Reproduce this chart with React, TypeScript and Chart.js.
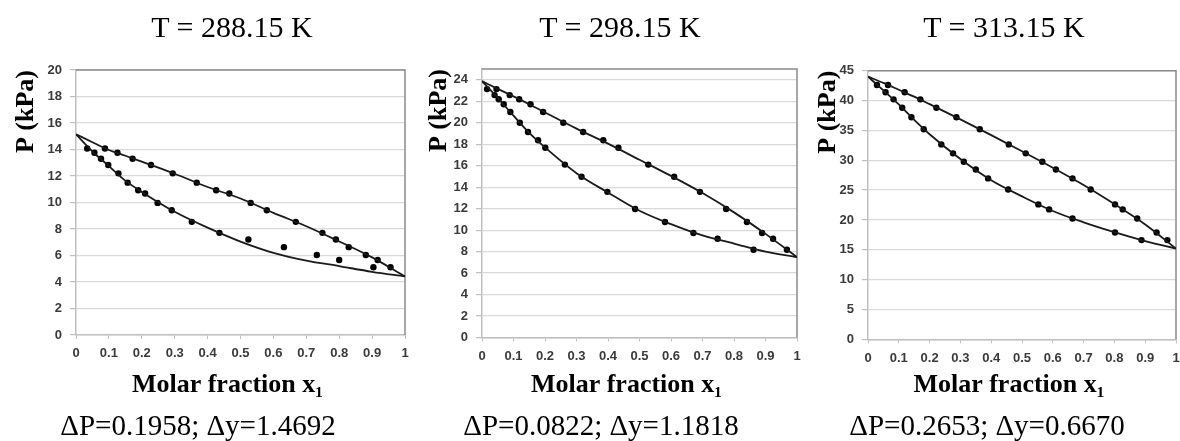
import React, { useEffect, useRef } from 'react';
import { Chart, registerables } from 'chart.js';

Chart.register(...registerables);

const CURVE_X = [0, 0.05, 0.1, 0.15, 0.2, 0.3, 0.4, 0.5, 0.6, 0.7, 0.8, 0.9, 1];

// ---- T = 288.15 K ----
const P_288 = [14.07, 13.76, 13.3, 12.83, 12.2, 11.5, 10.92, 10.68, 9.97, 9.42, 8.54, 7.71, 7.21, 6.63, 6.04, 5.66, 5.11];
const X1_288 = [0.088, 0.126, 0.172, 0.228, 0.294, 0.367, 0.426, 0.466, 0.531, 0.58, 0.668, 0.749, 0.79, 0.829, 0.881, 0.917, 0.956];
const Y1_288 = [0.034, 0.056, 0.076, 0.098, 0.129, 0.157, 0.189, 0.21, 0.248, 0.291, 0.352, 0.436, 0.524, 0.632, 0.732, 0.8, 0.904];
const BUBBLE_288 = [15.15, 14.55, 13.96, 13.53, 13.08, 12.17, 11.17, 10.3, 9.22, 8.21, 7.06, 5.86, 4.42];
const DEW_288 = [15.15, 13.85, 12.75, 11.65, 10.8, 9.3, 8.1, 7.05, 6.2, 5.62, 5.2, 4.77, 4.42];

// ---- T = 298.15 K ----
const P_298 = [23.13, 22.57, 22.19, 21.72, 21.0, 20.0, 19.14, 18.36, 17.67, 16.1, 14.97, 13.56, 11.97, 10.76, 9.73, 9.2, 8.17];
const X1_298 = [0.046, 0.088, 0.118, 0.154, 0.194, 0.258, 0.321, 0.385, 0.433, 0.528, 0.61, 0.692, 0.775, 0.841, 0.889, 0.924, 0.968];
const Y1_298 = [0.016, 0.04, 0.053, 0.069, 0.09, 0.12, 0.146, 0.178, 0.201, 0.263, 0.316, 0.398, 0.486, 0.581, 0.671, 0.748, 0.862];
const BUBBLE_298 = [23.87, 23.15, 22.45, 21.72, 20.95, 19.45, 18.05, 16.55, 15.05, 13.45, 11.65, 9.65, 7.48];
const DEW_298 = [23.87, 22.3, 20.65, 19.05, 17.7, 15.3, 13.5, 11.8, 10.55, 9.5, 8.75, 8.0, 7.48];

// ---- T = 313.15 K ----
const P_313 = [42.6, 41.4, 40.2, 38.8, 37.2, 35.2, 32.65, 31.15, 29.75, 28.46, 26.96, 25.1, 22.6, 21.76, 20.25, 17.9, 16.62];
const X1_313 = [0.065, 0.119, 0.17, 0.222, 0.287, 0.363, 0.457, 0.512, 0.566, 0.61, 0.664, 0.723, 0.802, 0.827, 0.874, 0.937, 0.972];
const Y1_313 = [0.029, 0.057, 0.083, 0.111, 0.141, 0.181, 0.238, 0.276, 0.311, 0.35, 0.39, 0.455, 0.553, 0.588, 0.664, 0.802, 0.888];
const BUBBLE_313 = [44.0, 42.95, 41.8, 40.65, 39.4, 36.85, 34.2, 31.5, 28.75, 25.85, 22.65, 19.25, 15.2];
const DEW_313 = [44.0, 41.7, 39.35, 36.75, 34.35, 30.2, 26.65, 23.95, 21.5, 19.6, 17.95, 16.45, 15.2];

const TITLES = ['T = 288.15 K', 'T = 298.15 K', 'T = 313.15 K'];
const STATS = ['ΔP=0.1958; Δy=1.4692', 'ΔP=0.0822; Δy=1.1818', 'ΔP=0.2653; Δy=0.6670'];
const Y_MAX = [20, 25, 45];
const Y_STEP = [2, 2, 5];
const X_STEP = 0.1;
const Y_TITLE = 'P (kPa)';
const X_TITLE = 'Molar fraction x₁    ';

const PANEL_DATA = [
  { p: P_288, x1: X1_288, y1: Y1_288, bubble: BUBBLE_288, dew: DEW_288 },
  { p: P_298, x1: X1_298, y1: Y1_298, bubble: BUBBLE_298, dew: DEW_298 },
  { p: P_313, x1: X1_313, y1: Y1_313, bubble: BUBBLE_313, dew: DEW_313 },
];

// layout (pixels)
const LAYOUT = [
  { left: 0, width: 410, top: 70, bottom: 335, yW: 76, padR: 5, yTitlePad: 10.4, titleC: 232, statC: 198 },
  { left: 413, width: 388, top: 69, bottom: 337.5, yW: 69, padR: 4, yTitlePad: 10.9, titleC: 620, statC: 601 },
  { left: 802, width: 378, top: 70.7, bottom: 339.3, yW: 66, padR: 4, yTitlePad: 10.4, titleC: 1004, statC: 987 },
];

const H = 441;
const X_TITLE_Y = 400.6;

const TICK_FONT = { family: "'Liberation Sans Narrow', 'Liberation Sans', Arial, sans-serif", size: 13, weight: 'bold' as const };
const AXIS_TITLE_FONT = { family: "'Liberation Serif', 'Times New Roman', serif", size: 26, weight: 'bold' as const };

const framePlugin = {
  id: 'frame',
  beforeDatasetsDraw(chart: any) {
    const { ctx, chartArea: a } = chart;
    ctx.save();
    ctx.strokeStyle = '#8a8a8a';
    ctx.lineWidth = 1.5;
    ctx.beginPath();
    ctx.moveTo(a.left, a.top);
    ctx.lineTo(a.right, a.top);
    ctx.lineTo(a.right, a.bottom);
    ctx.stroke();
    ctx.restore();
  },
};

function Panel({ idx }: { idx: number }) {
  const ref = useRef<HTMLCanvasElement>(null);
  const d = PANEL_DATA[idx];
  const L = LAYOUT[idx];

  useEffect(() => {
    if (!ref.current) return;
    const xH = X_TITLE_Y - L.bottom;
    const chart = new Chart(ref.current, {
      type: 'scatter',
      data: {
        datasets: [
          {
            label: 'bubble',
            data: CURVE_X.map((x, i) => ({ x, y: d.bubble[i] })),
            showLine: true,
            borderColor: '#1a1a1a',
            borderWidth: 1.8,
            pointRadius: 0,
            cubicInterpolationMode: 'monotone',
          } as any,
          {
            label: 'dew',
            data: CURVE_X.map((x, i) => ({ x, y: d.dew[i] })),
            showLine: true,
            borderColor: '#1a1a1a',
            borderWidth: 1.8,
            pointRadius: 0,
            cubicInterpolationMode: 'monotone',
          } as any,
          {
            label: 'x1 exp',
            data: d.x1.map((x, i) => ({ x, y: d.p[i] })),
            pointRadius: 3.2,
            pointBackgroundColor: '#000',
            pointBorderWidth: 0,
            showLine: false,
          },
          {
            label: 'y1 exp',
            data: d.y1.map((x, i) => ({ x, y: d.p[i] })),
            pointRadius: 3.2,
            pointBackgroundColor: '#000',
            pointBorderWidth: 0,
            showLine: false,
          },
        ],
      },
      options: {
        animation: false,
        responsive: true,
        maintainAspectRatio: false,
        layout: { padding: { top: L.top, bottom: H - X_TITLE_Y, left: 0, right: L.padR } },
        plugins: { legend: { display: false }, tooltip: { enabled: false }, title: { display: false } },
        scales: {
          x: {
            type: 'linear',
            min: 0,
            max: 1,
            ticks: {
              stepSize: X_STEP,
              font: TICK_FONT,
              color: '#3a3a3a',
              padding: 7,
              maxRotation: 0,
              autoSkip: false,
              callback: (v: any) => String(Math.round(Number(v) * 10) / 10),
            },
            grid: { drawOnChartArea: false, drawTicks: true, tickLength: 4, tickColor: '#bfbfbf' },
            border: { color: '#bfbfbf', width: 1.5 },
            title: { display: true, text: X_TITLE, font: AXIS_TITLE_FONT, color: '#000', padding: { top: 0, bottom: 0 } },
            afterFit: (s: any) => {
              s.height = xH;
              s.paddingLeft = 0;
              s.paddingRight = 0;
            },
          },
          y: {
            type: 'linear',
            min: 0,
            max: Y_MAX[idx],
            ticks: { stepSize: Y_STEP[idx], includeBounds: false, font: TICK_FONT, color: '#3a3a3a', padding: 8 },
            grid: { color: '#d9d9d9', lineWidth: 1.2, drawTicks: true, tickLength: 6, tickColor: '#bfbfbf' },
            border: { color: '#bfbfbf', width: 1.5 },
            title: { display: true, text: Y_TITLE, align: 'end', font: AXIS_TITLE_FONT, color: '#000', padding: { top: L.yTitlePad, bottom: 0 } },
            afterFit: (s: any) => { s.width = L.yW; },
          },
        },
      },
      plugins: [framePlugin],
    } as any);
    return () => chart.destroy();
  }, [idx]);

  return (
    <div style={{ position: 'absolute', left: L.left, top: 0, width: L.width, height: H }}>
      <canvas ref={ref} />
    </div>
  );
}

export default function App() {
  const serif = "'Liberation Serif', 'Times New Roman', serif";
  return (
    <div style={{ position: 'absolute', left: 0, top: 0, width: 1180, height: H, background: '#fff', overflow: 'hidden' }}>
      {[0, 1, 2].map((i) => (
        <Panel key={i} idx={i} />
      ))}
      {TITLES.map((t, i) => (
        <div
          key={'t' + i}
          style={{ position: 'absolute', left: LAYOUT[i].titleC - 150, width: 300, top: 12, textAlign: 'center', font: `30px/30px ${serif}`, color: '#000', whiteSpace: 'nowrap' }}
        >
          {t}
        </div>
      ))}
      {STATS.map((t, i) => (
        <div
          key={'s' + i}
          style={{ position: 'absolute', left: LAYOUT[i].statC - 180, width: 360, top: 411, textAlign: 'center', font: `29px/29px ${serif}`, color: '#000', whiteSpace: 'nowrap' }}
        >
          {t}
        </div>
      ))}
    </div>
  );
}
